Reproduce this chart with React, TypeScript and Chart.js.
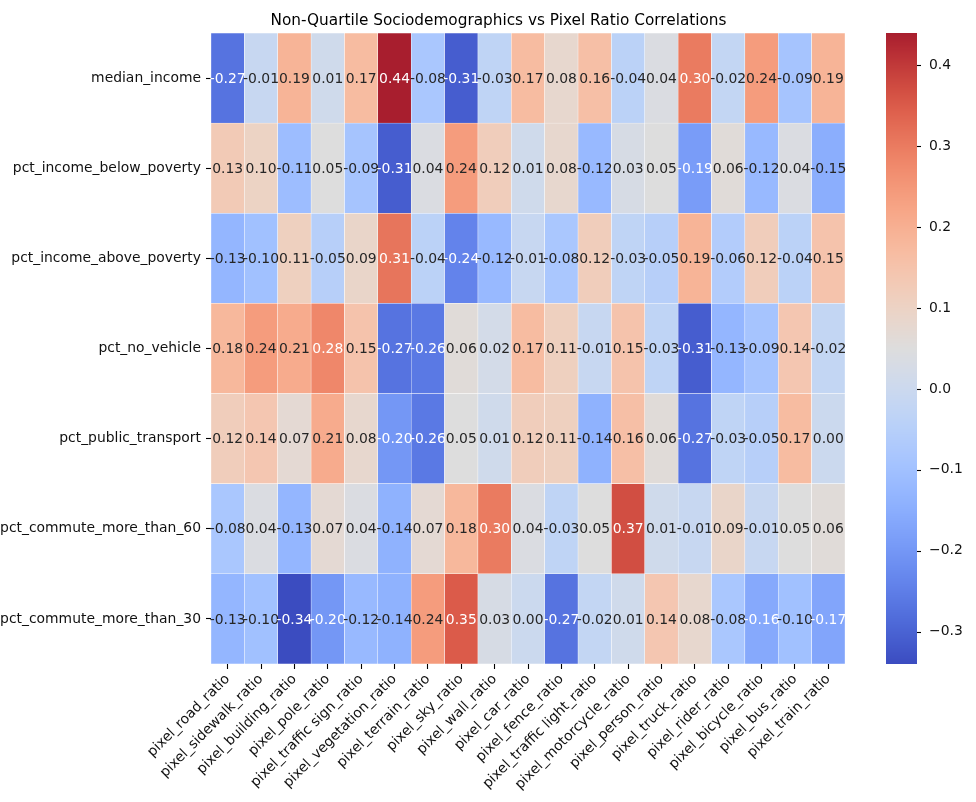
import { useEffect, useRef } from "react";
import { Chart, registerables } from "chart.js";

Chart.register(...registerables);

const chartTitle = "Non-Quartile Sociodemographics vs Pixel Ratio Correlations";

const rowLabels = [
  "median_income",
  "pct_income_below_poverty",
  "pct_income_above_poverty",
  "pct_no_vehicle",
  "pct_public_transport",
  "pct_commute_more_than_60",
  "pct_commute_more_than_30",
];

const colLabels = [
  "pixel_road_ratio",
  "pixel_sidewalk_ratio",
  "pixel_building_ratio",
  "pixel_pole_ratio",
  "pixel_traffic sign_ratio",
  "pixel_vegetation_ratio",
  "pixel_terrain_ratio",
  "pixel_sky_ratio",
  "pixel_wall_ratio",
  "pixel_car_ratio",
  "pixel_fence_ratio",
  "pixel_traffic light_ratio",
  "pixel_motorcycle_ratio",
  "pixel_person_ratio",
  "pixel_truck_ratio",
  "pixel_rider_ratio",
  "pixel_bicycle_ratio",
  "pixel_bus_ratio",
  "pixel_train_ratio",
];

const medianIncome = [-0.27, -0.01, 0.19, 0.01, 0.17, 0.44, -0.08, -0.31, -0.03, 0.17, 0.08, 0.16, -0.04, 0.04, 0.30, -0.02, 0.24, -0.09, 0.19];
const pctIncomeBelowPoverty = [0.13, 0.10, -0.11, 0.05, -0.09, -0.31, 0.04, 0.24, 0.12, 0.01, 0.08, -0.12, 0.03, 0.05, -0.19, 0.06, -0.12, 0.04, -0.15];
const pctIncomeAbovePoverty = [-0.13, -0.10, 0.11, -0.05, 0.09, 0.31, -0.04, -0.24, -0.12, -0.01, -0.08, 0.12, -0.03, -0.05, 0.19, -0.06, 0.12, -0.04, 0.15];
const pctNoVehicle = [0.18, 0.24, 0.21, 0.28, 0.15, -0.27, -0.26, 0.06, 0.02, 0.17, 0.11, -0.01, 0.15, -0.03, -0.31, -0.13, -0.09, 0.14, -0.02];
const pctPublicTransport = [0.12, 0.14, 0.07, 0.21, 0.08, -0.20, -0.26, 0.05, 0.01, 0.12, 0.11, -0.14, 0.16, 0.06, -0.27, -0.03, -0.05, 0.17, 0.00];
const pctCommuteMoreThan60 = [-0.08, 0.04, -0.13, 0.07, 0.04, -0.14, 0.07, 0.18, 0.30, 0.04, -0.03, 0.05, 0.37, 0.01, -0.01, 0.09, -0.01, 0.05, 0.06];
const pctCommuteMoreThan30 = [-0.13, -0.10, -0.34, -0.20, -0.12, -0.14, 0.24, 0.35, 0.03, 0.00, -0.27, -0.02, 0.01, 0.14, 0.08, -0.08, -0.16, -0.10, -0.17];

const rowValues = [
  medianIncome,
  pctIncomeBelowPoverty,
  pctIncomeAbovePoverty,
  pctNoVehicle,
  pctPublicTransport,
  pctCommuteMoreThan60,
  pctCommuteMoreThan30,
];

const colorbarTicks = [-0.3, -0.2, -0.1, 0.0, 0.1, 0.2, 0.3, 0.4];

// "coolwarm" diverging colormap control points
const COOLWARM: number[][] = [
  [59, 76, 192], [68, 90, 204], [77, 104, 215], [87, 117, 225], [98, 130, 234],
  [108, 142, 241], [119, 154, 247], [130, 165, 251], [141, 176, 254], [152, 185, 255],
  [163, 194, 255], [174, 201, 253], [184, 208, 249], [194, 213, 244], [204, 217, 238],
  [213, 219, 230], [221, 221, 221], [229, 216, 209], [236, 211, 197], [241, 204, 185],
  [245, 196, 173], [247, 187, 160], [247, 177, 148], [247, 166, 135], [244, 154, 123],
  [241, 141, 111], [236, 127, 99], [229, 112, 88], [222, 96, 77], [211, 80, 67],
  [198, 64, 60], [184, 46, 53], [168, 30, 46],
];

const allValues = rowValues.flat();
const vmin = Math.min(...allValues);
const vmax = Math.max(...allValues);

function cmapRGB(v: number): number[] {
  let t = (v - vmin) / (vmax - vmin);
  t = Math.max(0, Math.min(1, t));
  const f = t * (COOLWARM.length - 1);
  const i = Math.min(Math.floor(f), COOLWARM.length - 2);
  const u = f - i;
  const a = COOLWARM[i];
  const b = COOLWARM[i + 1];
  return [0, 1, 2].map((k) => a[k] + (b[k] - a[k]) * u);
}

function cmap(v: number): string {
  const [r, g, b] = cmapRGB(v);
  return `rgb(${Math.round(r)},${Math.round(g)},${Math.round(b)})`;
}

function textColor(v: number): string {
  const lin = cmapRGB(v).map((c) => {
    const s = c / 255;
    return s <= 0.03928 ? s / 12.92 : Math.pow((s + 0.055) / 1.055, 2.4);
  });
  const lum = 0.2126 * lin[0] + 0.7152 * lin[1] + 0.0722 * lin[2];
  return lum > 0.408 ? "#262626" : "#ffffff";
}

const FONT = '"DejaVu Sans", "Liberation Sans", sans-serif';

const heatPlugin = {
  id: "heatExtras",
  afterDatasetsDraw(chart: any) {
    const ctx = chart.ctx;
    ctx.save();
    ctx.font = `13.9px ${FONT}`;
    ctx.textAlign = "center";
    ctx.textBaseline = "middle";
    chart.data.datasets.forEach((ds: any, di: number) => {
      const meta = chart.getDatasetMeta(di);
      meta.data.forEach((bar: any, i: number) => {
        const p = bar.getProps(["x", "y", "base"], true);
        const v = ds.corr[i];
        ctx.fillStyle = textColor(v);
        ctx.fillText(v.toFixed(2), p.x, (p.y + p.base) / 2 + 1);
      });
    });
    ctx.restore();
  },
  afterDraw(chart: any) {
    const ctx = chart.ctx;
    const sc = chart.scales.cb;
    const area = chart.chartArea;
    const x0 = area.right + 41;
    const x1 = area.right + 72;
    ctx.save();
    for (let py = Math.floor(sc.top); py < Math.ceil(sc.bottom); py++) {
      const v = sc.getValueForPixel(py + 0.5);
      ctx.fillStyle = cmap(v);
      ctx.fillRect(x0, py, x1 - x0, 1);
    }
    ctx.strokeStyle = "#000";
    ctx.lineWidth = 1.1;
    sc.ticks.forEach((t: any) => {
      const py = Math.round(sc.getPixelForValue(t.value)) + 0.5;
      ctx.beginPath();
      ctx.moveTo(x1, py);
      ctx.lineTo(x1 + 4, py);
      ctx.stroke();
    });
    // title
    ctx.fillStyle = "#000";
    ctx.font = `15.3px ${FONT}`;
    ctx.textAlign = "center";
    ctx.textBaseline = "alphabetic";
    ctx.fillText(chartTitle, 498.5, 25);
    ctx.restore();
  },
};

export default function App() {
  const canvasRef = useRef<HTMLCanvasElement | null>(null);

  useEffect(() => {
    document.body.style.margin = "0";
    const canvas = canvasRef.current;
    if (!canvas) return;
    Chart.defaults.font.family = FONT;

    const n = rowLabels.length;
    const datasets = rowLabels
      .map((label, r) => ({
        label,
        data: colLabels.map(() => 1),
        corr: rowValues[r],
        backgroundColor: rowValues[r].map((v) => cmap(v)),
        borderColor: "#ffffff",
        borderWidth: 0.5,
        borderSkipped: false as const,
        barPercentage: 1,
        categoryPercentage: 1,
      }))
      .reverse();

    const chart = new Chart(canvas, {
      type: "bar",
      data: { labels: colLabels, datasets: datasets as any },
      plugins: [heatPlugin],
      options: {
        responsive: false,
        animation: false,
        layout: { padding: { top: 33, left: 0, right: 0, bottom: 0 } },
        plugins: {
          legend: { display: false },
          tooltip: { enabled: false },
          title: { display: false },
        },
        scales: {
          x: {
            type: "category",
            stacked: true,
            offset: true,
            border: { display: false },
            grid: {
              offset: false,
              drawOnChartArea: false,
              drawTicks: true,
              tickLength: 5,
              tickWidth: 1.1,
              tickColor: "#000",
            },
            ticks: {
              autoSkip: false,
              minRotation: 45,
              maxRotation: 45,
              padding: 2,
              color: "#111",
              font: { size: 13.9, family: FONT },
            },
            afterFit: (scale: any) => {
              scale.height = 138;
              scale.paddingLeft = 0;
              scale.paddingRight = 0;
            },
          },
          y: {
            type: "linear",
            stacked: true,
            min: 0,
            max: n,
            border: { display: false },
            grid: {
              drawOnChartArea: false,
              drawTicks: true,
              tickLength: 5,
              tickWidth: 1.1,
              tickColor: "#000",
            },
            ticks: {
              padding: 5,
              color: "#111",
              font: { size: 13.9, family: FONT },
              callback: (value: any) => rowLabels[n - 1 - Math.floor(Number(value))],
            },
            afterBuildTicks: (scale: any) => {
              scale.ticks = rowLabels.map((_, i) => ({ value: n - 1 - i + 0.5 }));
            },
            afterFit: (scale: any) => {
              scale.width = 211;
              scale.paddingTop = 0;
              scale.paddingBottom = 0;
            },
          },
          cb: {
            type: "linear",
            position: "right",
            min: vmin,
            max: vmax,
            border: { display: false },
            grid: { drawOnChartArea: false, drawTicks: false },
            ticks: {
              padding: 84,
              color: "#111",
              font: { size: 13.9, family: FONT },
              callback: (value: any) => {
                const s = Number(value).toFixed(1);
                return s.startsWith("-") ? "\u2212" + s.slice(1) : s;
              },
            },
            afterBuildTicks: (scale: any) => {
              scale.ticks = colorbarTicks.map((v) => ({ value: v }));
            },
            afterFit: (scale: any) => {
              scale.width = 131;
              scale.paddingTop = 0;
              scale.paddingBottom = 0;
            },
          },
        },
      } as any,
    });

    return () => chart.destroy();
  }, []);

  return (
    <div style={{ width: 976, height: 802, background: "#fff" }}>
      <canvas ref={canvasRef} width={976} height={802} />
    </div>
  );
}
